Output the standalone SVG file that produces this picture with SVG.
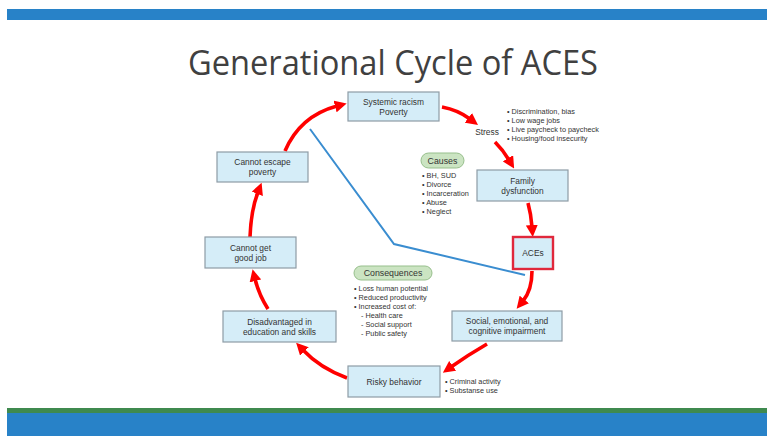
<svg xmlns="http://www.w3.org/2000/svg" width="767" height="436" viewBox="0 0 767 436">
<style>
.box{fill:#D5EDF8;stroke:#8E9CA6;stroke-width:1.2}
.nt{font-family:"Liberation Sans",Arial,sans-serif;font-size:8.4px;fill:#333;text-anchor:middle}
.bt{font-family:"Liberation Sans",Arial,sans-serif;font-size:7.3px;fill:#333}
.pill{fill:#CBE4C2;stroke:#97BF8C;stroke-width:1}
.pt{font-family:"Liberation Sans",Arial,sans-serif;font-size:8.8px;fill:#333;text-anchor:middle}
.arr{fill:none;stroke:#FF0000;stroke-width:3.6;marker-end:url(#ah)}
</style>
<defs>
<marker id="ah" markerUnits="userSpaceOnUse" markerWidth="12" markerHeight="12" refX="2" refY="6" orient="auto">
<path d="M0,0 L12,6 L0,12 z" fill="#FF0000"/>
</marker>
</defs>
<rect width="767" height="436" fill="#fff"/>
<rect x="7" y="9" width="760" height="11" fill="#2882C8"/>
<rect x="7" y="408" width="760" height="6" fill="#3F8A4F"/>
<rect x="7" y="413" width="760" height="23" fill="#2882C8"/>
<text x="393" y="75" font-family="'Open Sans','Liberation Sans',sans-serif" font-size="34" fill="#404040" text-anchor="middle" textLength="410" lengthAdjust="spacingAndGlyphs">Generational Cycle of ACES</text>

<g id="connectors">
<path d="M310,129 L394,244 L525,275" fill="none" stroke="#3A8DD0" stroke-width="2"/>
<path class="arr" d="M285,151 Q300,116 337,106"/>
<path class="arr" d="M442,107 Q458,110 470,119"/>
<path class="arr" d="M495,142 Q503,150 509,160"/>
<path class="arr" d="M528,203 Q531,214 532,227"/>
<path class="arr" d="M532,271 Q532,290 523,301"/>
<path class="arr" d="M487,344 Q468,355 451,367"/>
<path class="arr" d="M347,378 Q320,368 303,350"/>
<path class="arr" d="M268,309 Q259,295 255,279"/>
<path class="arr" d="M250,237 Q251,210 258,192"/>
</g>

<g id="systemic">
<rect class="box" x="348" y="92" width="91" height="29"/>
<text class="nt" x="393.5" y="104.5">Systemic racism</text>
<text class="nt" x="393.5" y="114.5">Poverty</text>
</g>
<g id="stress">
<text class="nt" x="487" y="134.5">Stress</text>
<text class="bt" x="507" y="113.5">• Discrimination, bias</text>
<text class="bt" x="507" y="122.5">• Low wage jobs</text>
<text class="bt" x="507" y="131.5">• Live paycheck to paycheck</text>
<text class="bt" x="507" y="140.5">• Housing/food insecurity</text>
</g>
<g id="family">
<rect class="box" x="477" y="170" width="91" height="31"/>
<text class="nt" x="522.5" y="183.5">Family</text>
<text class="nt" x="522.5" y="193.5">dysfunction</text>
</g>
<g id="aces">
<rect x="513" y="237" width="40" height="32" fill="#D5EDF8" stroke="#E0283C" stroke-width="2.4"/>
<text class="nt" x="533" y="256">ACEs</text>
</g>
<g id="social">
<rect class="box" x="452" y="311" width="110" height="30"/>
<text class="nt" x="507" y="324">Social, emotional, and</text>
<text class="nt" x="507" y="334">cognitive impairment</text>
</g>
<g id="risky">
<rect class="box" x="348" y="366" width="92" height="31"/>
<text class="nt" x="394" y="384.5">Risky behavior</text>
<text class="bt" x="445" y="384">• Criminal activity</text>
<text class="bt" x="445" y="393">• Substanse use</text>
</g>
<g id="disadvantaged">
<rect class="box" x="223" y="311" width="113" height="31"/>
<text class="nt" x="279.5" y="324.5">Disadvantaged in</text>
<text class="nt" x="279.5" y="334.5">education and skills</text>
</g>
<g id="cannotjob">
<rect class="box" x="205" y="237" width="91" height="31"/>
<text class="nt" x="250.5" y="250.5">Cannot get</text>
<text class="nt" x="250.5" y="260.5">good job</text>
</g>
<g id="cannotescape">
<rect class="box" x="217" y="152" width="91" height="30"/>
<text class="nt" x="262.5" y="165">Cannot escape</text>
<text class="nt" x="262.5" y="175">poverty</text>
</g>
<g id="causes">
<rect class="pill" x="421" y="153" width="43" height="15" rx="7.5"/>
<text class="pt" x="442.5" y="163.5">Causes</text>
<text class="bt" x="422" y="177.5">• BH, SUD</text>
<text class="bt" x="422" y="186.5">• Divorce</text>
<text class="bt" x="422" y="195.5">• Incarceration</text>
<text class="bt" x="422" y="204.5">• Abuse</text>
<text class="bt" x="422" y="213.5">• Neglect</text>
</g>
<g id="consequences">
<rect class="pill" x="354" y="266" width="78" height="14" rx="7"/>
<text class="pt" x="393" y="276">Consequences</text>
<text class="bt" x="354" y="290.5">• Loss human potential</text>
<text class="bt" x="354" y="299.5">• Reduced productivity</text>
<text class="bt" x="354" y="308.5">• Increased cost of:</text>
<text class="bt" x="361" y="317.5">- Health care</text>
<text class="bt" x="361" y="326.5">- Social support</text>
<text class="bt" x="361" y="335.5">- Public safety</text>
</g>
</svg>
